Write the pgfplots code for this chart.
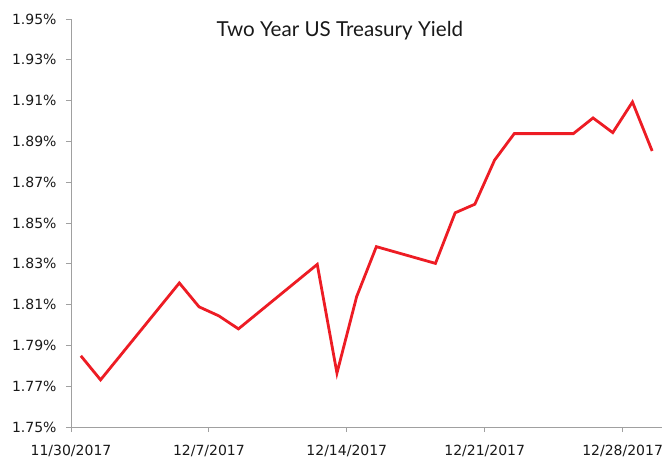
\documentclass[border=0pt]{standalone}
\usepackage{pgfplots}
\pgfplotsset{compat=1.18}
\usepackage{fontspec}
\setmainfont{DejaVu Sans}
\newfontfamily\titlefont{Lato}
\definecolor{linered}{HTML}{ED1C24}
\definecolor{axgray}{HTML}{A0A0A0}
\begin{document}
\begin{tikzpicture}
\begin{axis}[
  width=591bp, height=408bp, scale only axis=true,
  xmin=0, xmax=30, ymin=1.75, ymax=1.95,
  axis x line*=bottom, axis y line*=left,
  axis line style={axgray, line width=0.9bp, -},
  tick style={axgray, line width=0.9bp},
  tick align=outside, major tick length=5bp,
  xtick={0,7,14,21,28},
  xticklabels={11/30/2017,12/7/2017,12/14/2017,12/21/2017,12/28/2017},
  ytick={1.75,1.77,1.79,1.81,1.83,1.85,1.87,1.89,1.91,1.93,1.95},
  yticklabels={1.75\%,1.77\%,1.79\%,1.81\%,1.83\%,1.85\%,1.87\%,1.89\%,1.91\%,1.93\%,1.95\%},
  ticklabel style={font=\fontsize{14bp}{16bp}\selectfont, text=black!90},
  xticklabel style={yshift=-10bp},
  yticklabel style={xshift=-6bp},
  clip=false,
]
\addplot[linered, line width=2.8bp, mark=none] coordinates {
(0.5,1.7849) (1.5,1.7731) (5.5,1.8206) (6.5,1.8089) (7.5,1.8045) (8.5,1.7981)
(12.5,1.8297) (13.5,1.7764) (14.5,1.8139) (15.5,1.8384) (18.5,1.8302)
(19.5,1.8550) (20.5,1.8592) (21.5,1.8808) (22.5,1.8938) (25.5,1.8938)
(26.5,1.9015) (27.5,1.8943) (28.5,1.9093) (29.5,1.8853)
};
\node[anchor=base, font=\titlefont\fontsize{20.6bp}{24bp}\selectfont, text=black!90] at (rel axis cs:0.455,0.957) {Two Year US Treasury Yield};
\coordinate (o) at (rel axis cs:0,0);
\end{axis}
\pgfresetboundingbox
\path[use as bounding box] (o) ++(-71bp,-35bp) rectangle ++(668bp,462bp);
\end{tikzpicture}
\end{document}
